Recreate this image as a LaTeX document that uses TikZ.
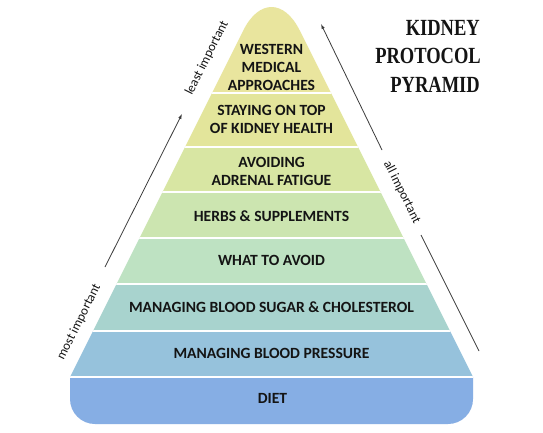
\documentclass[tikz,border=0pt]{standalone}
\usepackage{fontspec}
\setmainfont{Carlito}
\newfontfamily\titlefont{Liberation Serif}
\usetikzlibrary{arrows.meta}
\definecolor{bandA}{RGB}{233,229,158}
\definecolor{bandB}{RGB}{227,229,155}
\definecolor{bandC}{RGB}{216,230,163}
\definecolor{bandD}{RGB}{204,229,176}
\definecolor{bandE}{RGB}{190,226,194}
\definecolor{bandF}{RGB}{168,211,206}
\definecolor{bandG}{RGB}{150,194,220}
\definecolor{bandH}{RGB}{134,174,228}
\definecolor{txt}{RGB}{20,20,20}
\definecolor{linec}{RGB}{60,60,60}
\begin{document}
\begin{tikzpicture}[x=1pt,y=-1pt,
  band/.style={font=\bfseries\fontsize{15.6}{18}\selectfont, text=txt, inner sep=0pt, align=center},
  side/.style={font=\fontsize{13}{15}\selectfont, text=txt, inner sep=0pt},
  guide/.style={draw=linec, line width=0.8pt},
  ttl/.style={font=\titlefont\bfseries\fontsize{18.5}{20}\selectfont, text=txt, anchor=base east, inner sep=0pt},
  sep/.style={draw=white, line width=2pt}]
\useasboundingbox[fill=white] (0,0) rectangle (543,432);
\begin{scope}
  \clip[rounded corners=25pt] (70,-60) rectangle (473,424);
  \clip[rounded corners=63pt] (13.5,490) -- (271.5,-26) -- (529.5,490) -- cycle;
  \fill[bandA] (0,-30) rectangle (543,93);
  \fill[bandB] (0,93) rectangle (543,147);
  \fill[bandC] (0,147) rectangle (543,192);
  \fill[bandD] (0,192) rectangle (543,238);
  \fill[bandE] (0,238) rectangle (543,284);
  \fill[bandF] (0,284) rectangle (543,331);
  \fill[bandG] (0,331) rectangle (543,377);
  \fill[bandH] (0,377) rectangle (543,440);
  \foreach \yy in {93,147,192,238,284,331,377} \draw[sep] (0,\yy) -- (543,\yy);
\end{scope}
% band labels
\node[band] (western) at (271.5,67) {WESTERN\\MEDICAL\\APPROACHES};
\node[band] (staying) at (271.5,119) {STAYING ON TOP\\OF KIDNEY HEALTH};
\node[band] (adrenal) at (271.5,171) {AVOIDING\\ADRENAL FATIGUE};
\node[band, anchor=base] (herbs) at (271.5,221) {HERBS \& SUPPLEMENTS};
\node[band, anchor=base] (avoid) at (271.5,265) {WHAT TO AVOID};
\node[band, anchor=base] (sugar) at (271.5,312) {MANAGING BLOOD SUGAR \& CHOLESTEROL};
\node[band, anchor=base] (pressure) at (271.5,358) {MANAGING BLOOD PRESSURE};
\node[band, anchor=base] (diet) at (272.5,403) {DIET};
% title
\node[ttl] (t1) at (480,35) {\scalebox{1}[1.25]{KIDNEY}};
\node[ttl] (t2) at (481,63) {\scalebox{1}[1.25]{PROTOCOL}};
\node[ttl] (t3) at (480,92) {\scalebox{1}[1.25]{PYRAMID}};
% side labels
\node[side, rotate=63.43] (least) at (207,58) {least important};
\node[side, rotate=63.43] (most) at (79,322) {most important};
\node[side, rotate=-63.43] (allimp) at (402,192) {all important};
% guide lines
\coordinate (lA) at (105,267);
\coordinate (lB) at (182,114);
\coordinate (rTop) at (321,24);
\coordinate (rMid1) at (382,150);
\coordinate (rMid2) at (421,235);
\coordinate (rBot) at (479,351);
\draw[guide, -{Latex[length=5pt,width=3.5pt]}] (lA) -- (lB);
\draw[guide, -{Latex[length=5pt,width=3.5pt]}] (rMid1) -- (rTop);
\draw[guide] (rMid2) -- (rBot);
\end{tikzpicture}
\end{document}
